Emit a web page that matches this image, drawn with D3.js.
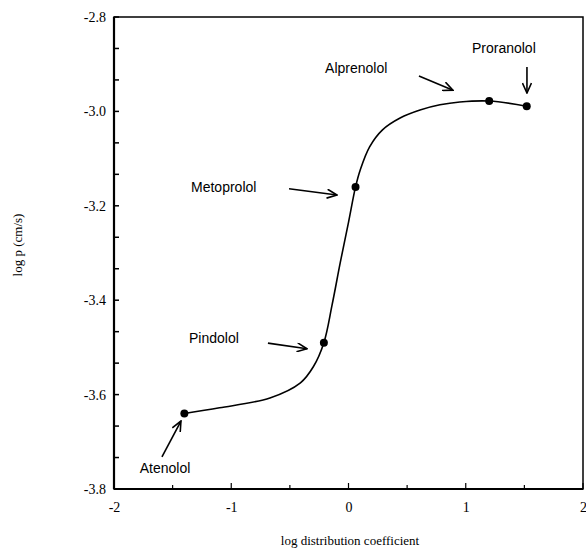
<!DOCTYPE html>
<html>
<head>
<meta charset="utf-8">
<script src="https://cdn.jsdelivr.net/npm/d3@7"></script>
<style>
  body { margin: 0; background: #fff; }
  .tick text { font-family: "Liberation Serif", serif; font-size: 14px; }
  .lbl { font-family: "Liberation Sans", Arial, sans-serif; font-size: 14px; }
  .axisText { font-family: "Liberation Serif", serif; font-size: 13px; }
</style>
</head>
<body>
<div id="chart"></div>
<script>
// measured drugs
var drugs = ['Atenolol', 'Pindolol', 'Metoprolol', 'Alprenolol', 'Proranolol'];
var logD = [-1.40, -0.21, 0.06, 1.20, 1.52];
var logP = [-3.64, -3.49, -3.16, -2.978, -2.989];

// traced fitted curve
var curveX = [-1.40, -1.10, -0.67, -0.41, -0.30, -0.21, -0.14, -0.07, 0.00, 0.06, 0.10, 0.18, 0.29, 0.44, 0.61, 0.78, 0.95, 1.20, 1.52];
var curveY = [-3.64, -3.628, -3.607, -3.575, -3.541, -3.49, -3.41, -3.32, -3.235, -3.16, -3.124, -3.075, -3.039, -3.014, -2.997, -2.986, -2.98, -2.978, -2.989];

// arrows: label text, label start, arrow tail and head (data units)
var noteText = ['Atenolol', 'Pindolol', 'Metoprolol', 'Alprenolol', 'Proranolol'];
var noteLabel = [[-1.78, -3.766], [-1.36, -3.491], [-1.343, -3.171], [-0.20, -2.919], [1.053, -2.876]];
var noteTail = [[-1.591, -3.732], [-0.687, -3.491], [-0.507, -3.164], [0.601, -2.925], [1.522, -2.906]];
var noteHead = [[-1.429, -3.656], [-0.354, -3.503], [-0.098, -3.177], [0.891, -2.955], [1.522, -2.961]];

var svgWidth = 586;
var svgHeight = 553;
var margins = { top: 17, right: 3, left: 114, bottom: 64 };
var width = svgWidth - margins.left - margins.right;
var height = svgHeight - margins.top - margins.bottom;

var svg = d3.select('#chart').append('svg').attr('width', svgWidth).attr('height', svgHeight);
var chart = svg.append('g').attr('transform', `translate(${margins.left}, ${margins.top})`);

var xaxis = d3.scaleLinear().domain([-2, 2]).range([0, width]);
var yaxis = d3.scaleLinear().domain([-3.8, -2.8]).range([height, 0]);

// frame
chart.append('rect')
  .attr('width', width).attr('height', height)
  .attr('fill', 'none').attr('stroke', '#000').attr('stroke-width', 1.5);

// inward ticks
var xMinor = d3.range(-2, 2.001, 0.5);
var yMinor = d3.range(0, 16).map(i => -3.8 + i * 0.2 / 3);

chart.append('g').selectAll('line').data(xMinor).enter().append('line')
  .attr('x1', d => xaxis(d)).attr('x2', d => xaxis(d))
  .attr('y1', height).attr('y2', d => Math.abs(d % 1) < 1e-6 ? height - 6 : height - 4)
  .attr('stroke', '#000').attr('stroke-width', 1.2);

chart.append('g').selectAll('line').data(yMinor).enter().append('line')
  .attr('y1', d => yaxis(d)).attr('y2', d => yaxis(d))
  .attr('x1', 0).attr('x2', 5)
  .attr('stroke', '#000').attr('stroke-width', 1.5);

// axes (labels only)
var bottomAxis = d3.axisBottom(xaxis).tickValues([-2, -1, 0, 1, 2]).tickFormat(d3.format('d')).tickSize(0).tickPadding(13);
var leftAxis = d3.axisLeft(yaxis).tickValues([-3.8, -3.6, -3.4, -3.2, -3.0, -2.8]).tickFormat(d3.format('.1f')).tickSize(0).tickPadding(8);

chart.append('g').attr('transform', `translate(0, ${height})`).call(bottomAxis)
  .call(g => g.select('.domain').remove());
chart.append('g').call(leftAxis)
  .call(g => g.select('.domain').remove());
chart.selectAll('.tick text').text(function() { return this.textContent.replace('\u2212', '-'); });

// thicker left/bottom
chart.append('line').attr('x1', 0).attr('x2', 0).attr('y1', 0).attr('y2', height).attr('stroke', '#000').attr('stroke-width', 2.2);
chart.append('line').attr('x1', 0).attr('x2', width).attr('y1', height).attr('y2', height).attr('stroke', '#000').attr('stroke-width', 2);

// fitted curve
var pts = curveX.map((x, i) => [x, curveY[i]]);
var line = d3.line().x(d => xaxis(d[0])).y(d => yaxis(d[1])).curve(d3.curveCatmullRom.alpha(0.5));
chart.append('path').datum(pts)
  .attr('d', line).attr('fill', 'none').attr('stroke', '#000').attr('stroke-width', 1.6);

// points
chart.selectAll('circle').data(drugs).enter().append('circle')
  .attr('cx', (d, i) => xaxis(logD[i]))
  .attr('cy', (d, i) => yaxis(logP[i]))
  .attr('r', 4).attr('fill', '#000');

// arrowheads
svg.append('defs').append('marker')
  .attr('id', 'head').attr('viewBox', '0 0 12 10')
  .attr('refX', 11).attr('refY', 5)
  .attr('markerWidth', 12).attr('markerHeight', 10)
  .attr('markerUnits', 'userSpaceOnUse').attr('orient', 'auto')
  .append('path').attr('d', 'M1,0.5 L11,5 L1,9.5')
  .attr('fill', 'none').attr('stroke', '#000').attr('stroke-width', 1.6);

chart.selectAll('.arrow').data(noteText).enter().append('line')
  .attr('class', 'arrow')
  .attr('x1', (d, i) => xaxis(noteTail[i][0])).attr('y1', (d, i) => yaxis(noteTail[i][1]))
  .attr('x2', (d, i) => xaxis(noteHead[i][0])).attr('y2', (d, i) => yaxis(noteHead[i][1]))
  .attr('stroke', '#000').attr('stroke-width', 1.6)
  .attr('marker-end', 'url(#head)');

chart.selectAll('.lbl').data(noteText).enter().append('text')
  .attr('class', 'lbl')
  .attr('x', (d, i) => xaxis(noteLabel[i][0])).attr('y', (d, i) => yaxis(noteLabel[i][1]))
  .text(d => d);

// axis titles
svg.append('text').attr('class', 'axisText')
  .attr('text-anchor', 'middle')
  .attr('x', 350).attr('y', 545)
  .text('log distribution coefficient');

svg.append('text').attr('class', 'axisText')
  .attr('text-anchor', 'middle')
  .attr('transform', 'translate(22, 245) rotate(-90)')
  .text('log p (cm/s)');
</script>
</body>
</html>
